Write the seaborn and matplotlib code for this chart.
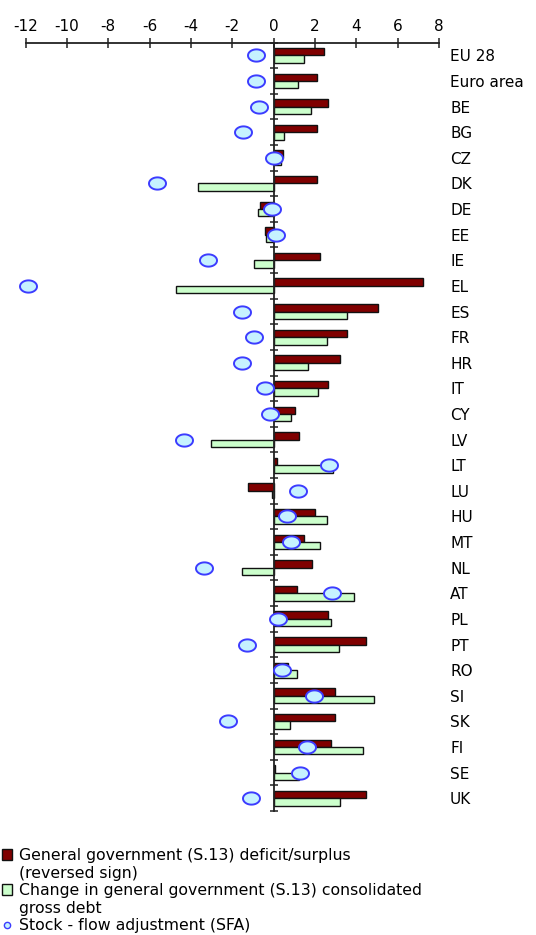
import numpy as np
import pandas as pd
import matplotlib
matplotlib.use("Agg")
import matplotlib.pyplot as plt
import matplotlib.patches as mpatches
from matplotlib.lines import Line2D
from matplotlib.path import Path
from matplotlib.ticker import FixedLocator
import seaborn as sns

countries = ["EU 28", "Euro area", "BE", "BG", "CZ", "DK", "DE", "EE", "IE", "EL",
             "ES", "FR", "HR", "IT", "CY", "LV", "LT", "LU", "HU", "MT",
             "NL", "AT", "PL", "PT", "RO", "SI", "SK", "FI", "SE", "UK"]

deficit = [2.43, 2.10, 2.63, 2.10, 0.43, 2.10, -0.68, -0.41, 2.25, 7.21,
           5.05, 3.57, 3.23, 2.61, 1.03, 1.22, 0.15, -1.22, 1.99, 1.47,
           1.84, 1.14, 2.61, 4.45, 0.69, 2.98, 2.98, 2.78, 0.08, 4.45]

debt_change = [1.46, 1.20, 1.82, 0.50, 0.36, -3.67, -0.78, -0.35, -0.96, -4.70,
               3.54, 2.60, 1.65, 2.15, 0.86, -3.04, 2.86, -0.08, 2.60, 2.25,
               -1.55, 3.90, 2.78, 3.14, 1.14, 4.86, 0.78, 4.33, 1.22, 3.21]

sfa = [-0.84, -0.84, -0.73, -1.46, 0.02, -5.62, -0.07, 0.12, -3.19, -11.88,
       -1.54, -0.93, -1.54, -0.40, -0.17, -4.32, 2.66, 1.17, 0.65, 0.83,
       -3.37, 2.83, 0.20, -1.29, 0.40, 1.94, -2.23, 1.59, 1.26, -1.09]

x_ticks = [-12, -10, -8, -6, -4, -2, 0, 2, 4, 6, 8]

series_names = ["General government (S.13) deficit/surplus",
                "Change in general government (S.13) consolidated"]
legend_lines = ["General government (S.13) deficit/surplus",
                "(reversed sign)",
                "Change in general government (S.13) consolidated",
                "gross debt",
                "Stock - flow adjustment (SFA)"]

RED = "#800000"
GREEN = "#ccffcc"
DOT_FACE = "#c6f2ff"
DOT_EDGE = "#3c3cff"

sns.set_theme(style="white")
plt.rcParams["font.family"] = ["DejaVu Sans"]
plt.rcParams["axes.unicode_minus"] = False
plt.rcParams["text.color"] = "black"
plt.rcParams["xtick.color"] = "black"
plt.rcParams["ytick.color"] = "black"

n = len(countries)
df = pd.DataFrame({
    "country": countries * 2,
    "value": deficit + debt_change,
    "series": [series_names[0]] * n + [series_names[1]] * n,
})

fig = plt.figure(figsize=(5.36, 9.35), dpi=100)
ax = fig.add_axes([0.0478, 0.1326, 0.819 - 0.0478, 0.9545 - 0.1326])

sns.barplot(data=df, x="value", y="country", hue="series", orient="h",
            palette=[RED, GREEN], width=0.58, saturation=1, errorbar=None,
            edgecolor="#111111", linewidth=1.0, legend=False, ax=ax)

# Slightly flattened circle for the SFA markers
t = np.linspace(0, 2 * np.pi, 60)
ellipse = Path(np.column_stack([np.cos(t), 0.72 * np.sin(t)]), closed=True)
ax.scatter(sfa, np.arange(n), marker=ellipse, s=150, facecolor=DOT_FACE,
           edgecolor=DOT_EDGE, linewidth=1.4, zorder=4, clip_on=False)

ax.set_xlim(-12, 8)
ax.set_ylim(n - 0.5, -0.5)
ax.set_xlabel("")
ax.set_ylabel("")

# x axis along the top
ax.xaxis.tick_top()
ax.set_xticks(x_ticks)
ax.set_xticklabels([str(v) for v in x_ticks])
ax.tick_params(axis="x", which="major", direction="inout", length=7, width=1.1,
               color="#222222", labelsize=11, pad=3, top=True, bottom=False)

for side in ("bottom", "right"):
    ax.spines[side].set_visible(False)
ax.spines["top"].set_linewidth(1.3)
ax.spines["top"].set_color("#222222")
ax.spines["left"].set_position(("data", 0))
ax.spines["left"].set_linewidth(1.3)
ax.spines["left"].set_color("#222222")
ax.spines["left"].set_zorder(3)

# country names on the right, separator ticks on the zero line
ax.set_yticks(np.arange(n))
ax.set_yticklabels(countries)
ax.yaxis.set_minor_locator(FixedLocator(np.arange(n + 1) - 0.5))
ax.tick_params(axis="y", which="major", left=False, right=False, length=0,
               labelleft=False, labelright=True, labelsize=11, pad=8)
ax.tick_params(axis="y", which="minor", left=True, right=False,
               direction="inout", length=6, width=1.1, color="#222222")
ax.grid(False)

handles = [
    mpatches.Patch(facecolor=RED, edgecolor="#111111", linewidth=1.0),
    mpatches.Patch(facecolor="none", edgecolor="none"),
    mpatches.Patch(facecolor=GREEN, edgecolor="#111111", linewidth=1.0),
    mpatches.Patch(facecolor="none", edgecolor="none"),
    Line2D([], [], linestyle="", marker="o", markersize=4.5,
           markerfacecolor=DOT_FACE, markeredgecolor=DOT_EDGE, markeredgewidth=1.0),
]
fig.legend(handles, legend_lines, loc="lower left", bbox_to_anchor=(0.004, 0.002),
           frameon=False, fontsize=11.3, handlelength=0.65, handleheight=0.65,
           handletextpad=0.45, labelspacing=0.16, borderpad=0, borderaxespad=0)

fig.savefig("out.png", dpi=100)
